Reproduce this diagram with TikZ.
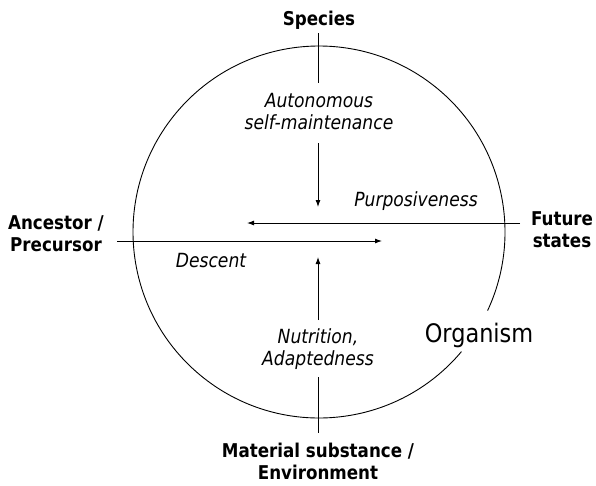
\documentclass[tikz,border=0pt]{standalone}
\usepackage{fontspec}
\setmainfont[FakeStretch=0.88]{DejaVu Sans}
\usetikzlibrary{arrows.meta}
\tikzset{
  lbl/.style={font=\fontsize{19}{22}\selectfont\bfseries, align=center, inner sep=0pt},
  itl/.style={font=\fontsize{19.5}{22}\selectfont\itshape, align=center, inner sep=0pt},
  ln/.style={line width=0.9pt},
  arr/.style={line width=0.9pt, -{Latex[length=7pt,width=5pt]}}
}
\begin{document}
\begin{tikzpicture}[x=1pt,y=-1pt]
\useasboundingbox (0,0) rectangle (596,485);
% circle (organism) with gap at label
\coordinate (c) at (319,232);
\draw[ln] (c) ++(40:186) arc[start angle=40, end angle=385, radius=186];
\node[font=\fontsize{25.5}{30}\selectfont, inner sep=0pt, anchor=base] (org) at (479,342) {Organism};
% outer labels
\node[lbl, anchor=base] (species) at (319,25) {Species};
\node[lbl] (anc) at (56,234) {Ancestor /\\Precursor};
\node[lbl] (fut) at (562,230) {Future\\states};
\node[lbl] (mat) at (318,461) {Material substance /\\Environment};
% inner labels
\node[itl] (auto) at (319,112) {Autonomous\\self-maintenance};
\node[itl, anchor=base] (purp) at (416,206) {Purposiveness};
\node[itl, anchor=base] (desc) at (211,267) {Descent};
\node[itl] (nutr) at (318,349) {Nutrition,\\Adaptedness};
% connector end points
\coordinate (s1) at (318,33);
\coordinate (s2) at (318,83);
\coordinate (d1) at (318,143);
\coordinate (d2) at (318,207);
\coordinate (u1) at (318,320);
\coordinate (u2) at (318,257);
\coordinate (m1) at (318,377);
\coordinate (m2) at (318,433);
\coordinate (l1) at (520,223);
\coordinate (l2) at (247,223);
\coordinate (r1) at (117,241);
\coordinate (r2) at (382,241);
% connectors
\draw[ln] (s1) -- (s2);
\draw[arr] (d1) -- (d2);
\draw[arr] (u1) -- (u2);
\draw[ln] (m1) -- (m2);
\draw[arr] (l1) -- (l2);
\draw[arr] (r1) -- (r2);
\end{tikzpicture}
\end{document}
